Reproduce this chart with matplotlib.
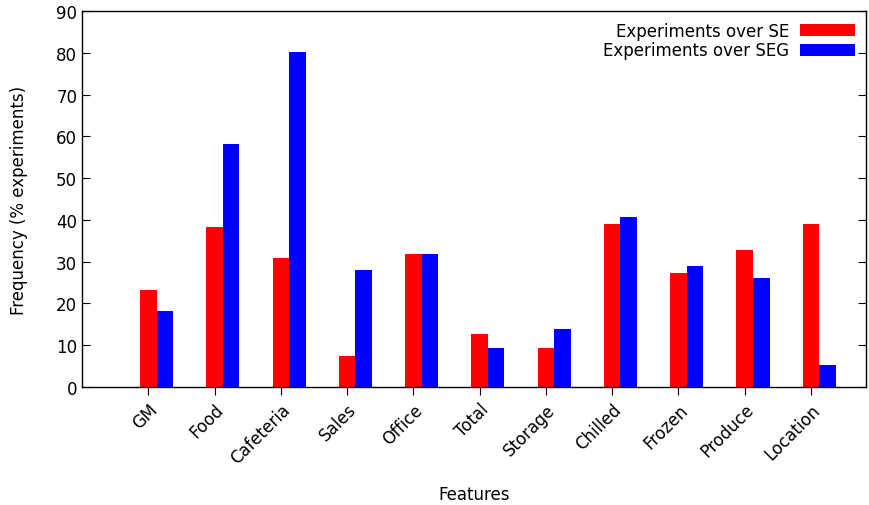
import numpy as np
import matplotlib
matplotlib.use("Agg")
import matplotlib.pyplot as plt

features = ["GM", "Food", "Cafeteria", "Sales", "Office", "Total",
            "Storage", "Chilled", "Frozen", "Produce", "Location"]
se = [23.3, 38.3, 30.8, 7.5, 31.8, 12.7, 9.3, 39.1, 27.2, 32.7, 39.1]
seg = [18.1, 58.2, 80.2, 27.9, 31.8, 9.3, 14.0, 40.6, 29.0, 26.2, 5.3]

plt.rcParams['font.family'] = ['DejaVu Sans']
fig = plt.figure(figsize=(8.7, 5.06), dpi=100)
ax = fig.add_axes([82/870, 118/506, 784/870, 376/506])

x = np.arange(len(features))
w = 0.25
ax.bar(x, se, w, color="#ff0000", label="Experiments over SE")
ax.bar(x + w, seg, w, color="#0000ff", label="Experiments over SEG")

ax.set_xlim(-1, 10.83)
ax.set_ylim(0, 90)
ax.set_yticks(range(0, 91, 10))
ax.set_xticks(x)
ax.set_xticklabels(features, rotation=45, ha="right", rotation_mode="anchor")
ax.tick_params(axis="y", direction="in", right=True, length=6, labelsize=12)
ax.tick_params(axis="x", direction="out", top=False, length=6, labelsize=12)
for s in ax.spines.values():
    s.set_linewidth(1)

ax.set_xlabel("Features", fontsize=12)
ax.xaxis.set_label_coords(0.5, -0.285)
ax.xaxis.label.set_va("center")
ax.set_ylabel("Frequency (% experiments)", fontsize=12)
ax.yaxis.set_label_coords(-0.08, 0.5)
ax.yaxis.label.set_va("center")
ax.legend(loc="upper right", frameon=False, markerfirst=False, fontsize=12,
          handlelength=3.3, handleheight=0.75, labelspacing=0.1,
          borderaxespad=0.3, handletextpad=0.65, borderpad=0.35)

fig.savefig("out.png")
